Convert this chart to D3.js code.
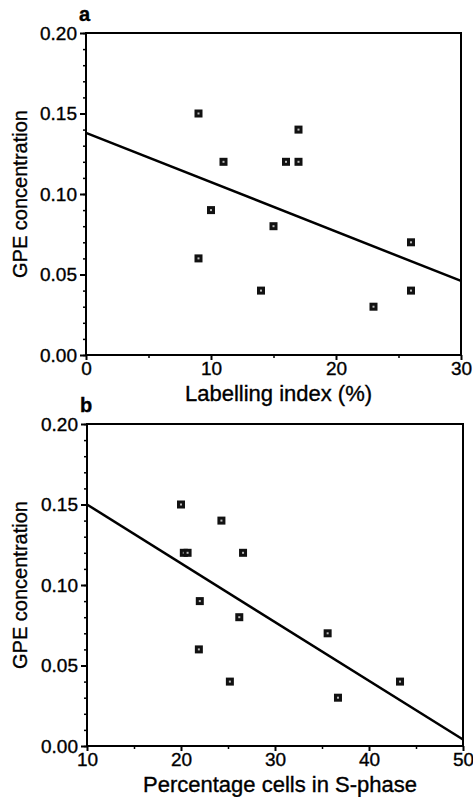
<!DOCTYPE html>
<html>
<head>
<meta charset="utf-8">
<script src="https://cdn.jsdelivr.net/npm/d3@7"></script>
<style>
  body { margin: 0; background: #fff; }
  svg { display: block; font-family: "Liberation Sans", Arial, sans-serif; }
  svg text { stroke: #000; stroke-width: 0.35px; fill: #000; }
</style>
</head>
<body>
<div id="chart"></div>
<script>
// Panel a: labelling index vs GPE concentration
const labellingIndex = [9, 11, 16, 17, 17, 10, 15, 9, 14, 23, 26, 26];
const gpeA = [0.15, 0.12, 0.12, 0.12, 0.14, 0.09, 0.08, 0.06, 0.04, 0.03, 0.07, 0.04];
const fitAX = [0, 30];
const fitAY = [0.138, 0.046];
const xTicksA = [0, 10, 20, 30];

// Panel b: % cells in S-phase vs GPE concentration
const sPhase = [20, 24.3, 20.3, 20.7, 26.6, 22, 26.2, 35.6, 21.9, 25.2, 36.7, 43.3];
const gpeB = [0.15, 0.14, 0.12, 0.12, 0.12, 0.09, 0.08, 0.07, 0.06, 0.04, 0.03, 0.04];
const fitBX = [10, 50];
const fitBY = [0.150, 0.004];
const xTicksB = [10, 20, 30, 40, 50];

const yTicks = [0, 0.05, 0.10, 0.15, 0.20];

const svg = d3.select("#chart")
    .append("svg")
    .attr("width", 473)
    .attr("height", 797);

function drawPanel(opts) {
    const x = d3.scaleLinear().domain(opts.xDomain).range([opts.left, opts.right]);
    const y = d3.scaleLinear().domain([0, 0.2]).range([opts.bottom, opts.top]);
    const g = svg.append("g");

    // Minor y ticks every 0.01
    g.append("g")
        .attr("transform", `translate(${opts.left},0)`)
        .call(d3.axisLeft(y).ticks(20).tickSize(3).tickFormat(""))
        .call(a => a.select(".domain").remove())
        .selectAll("line").attr("stroke-width", 1.5);

    // Minor x ticks
    g.append("g")
        .attr("transform", `translate(0,${opts.bottom})`)
        .call(d3.axisBottom(x).tickValues(opts.minorX).tickSize(3).tickFormat(""))
        .call(a => a.select(".domain").remove())
        .selectAll("line").attr("stroke-width", 1.5);

    // Major y axis
    const yAxis = g.append("g")
        .attr("transform", `translate(${opts.left},0)`)
        .call(d3.axisLeft(y).tickValues(yTicks).tickSize(6).tickPadding(3).tickFormat(d3.format(".2f")));
    yAxis.select(".domain").remove();
    yAxis.selectAll("line").attr("stroke-width", 2);
    yAxis.selectAll("text").style("font-size", "19px");

    // Major x axis
    const xAxis = g.append("g")
        .attr("transform", `translate(0,${opts.bottom})`)
        .call(d3.axisBottom(x).tickValues(opts.xTicks).tickSize(5).tickPadding(2).tickFormat(d3.format("d")));
    xAxis.select(".domain").remove();
    xAxis.selectAll("line").attr("stroke-width", 2);
    xAxis.selectAll("text").style("font-size", "19px");

    // Frame
    g.append("rect")
        .attr("x", opts.left)
        .attr("y", opts.top)
        .attr("width", opts.right - opts.left)
        .attr("height", opts.bottom - opts.top)
        .attr("fill", "none")
        .attr("stroke", "#000")
        .attr("stroke-width", 2);

    // Regression line
    g.append("line")
        .attr("x1", x(opts.fitX[0]))
        .attr("y1", y(opts.fitY[0]))
        .attr("x2", x(opts.fitX[1]))
        .attr("y2", y(opts.fitY[1]))
        .attr("stroke", "#000")
        .attr("stroke-width", 2.5);

    // Points
    const pts = opts.xs.map((v, i) => ({ x: v, y: opts.ys[i] }));
    const m = g.selectAll(".pt")
        .data(pts)
        .enter()
        .append("g")
        .attr("transform", d => `translate(${x(d.x)},${y(d.y)})`);
    m.append("rect")
        .attr("x", -4).attr("y", -4)
        .attr("width", 8).attr("height", 8)
        .attr("fill", "#111");
    m.append("rect")
        .attr("x", -1).attr("y", -1)
        .attr("width", 2).attr("height", 2)
        .attr("fill", "#bbb");

    // Panel letter
    g.append("text")
        .attr("x", opts.left - 7)
        .attr("y", opts.top - 12)
        .style("font-size", "20px")
        .style("font-weight", "bold")
        .text(opts.letter);

    // Axis titles
    g.append("text")
        .attr("x", (opts.left + opts.right) / 2 + 5)
        .attr("y", opts.bottom + 46)
        .attr("text-anchor", "middle")
        .style("font-size", "22px")
        .text(opts.xLabel);

    g.append("text")
        .attr("transform", `translate(27,${(opts.top + opts.bottom) / 2}) rotate(-90)`)
        .attr("text-anchor", "middle")
        .style("font-size", "20px")
        .text("GPE concentration");
}

drawPanel({
    letter: "a",
    left: 86, right: 461, top: 33, bottom: 355,
    xDomain: [0, 30],
    xTicks: xTicksA,
    minorX: [5, 15, 25],
    xs: labellingIndex, ys: gpeA,
    fitX: fitAX, fitY: fitAY,
    xLabel: "Labelling index (%)"
});

drawPanel({
    letter: "b",
    left: 87, right: 463, top: 424, bottom: 746,
    xDomain: [10, 50],
    xTicks: xTicksB,
    minorX: [15, 25, 35, 45],
    xs: sPhase, ys: gpeB,
    fitX: fitBX, fitY: fitBY,
    xLabel: "Percentage cells in S-phase"
});
</script>
</body>
</html>
